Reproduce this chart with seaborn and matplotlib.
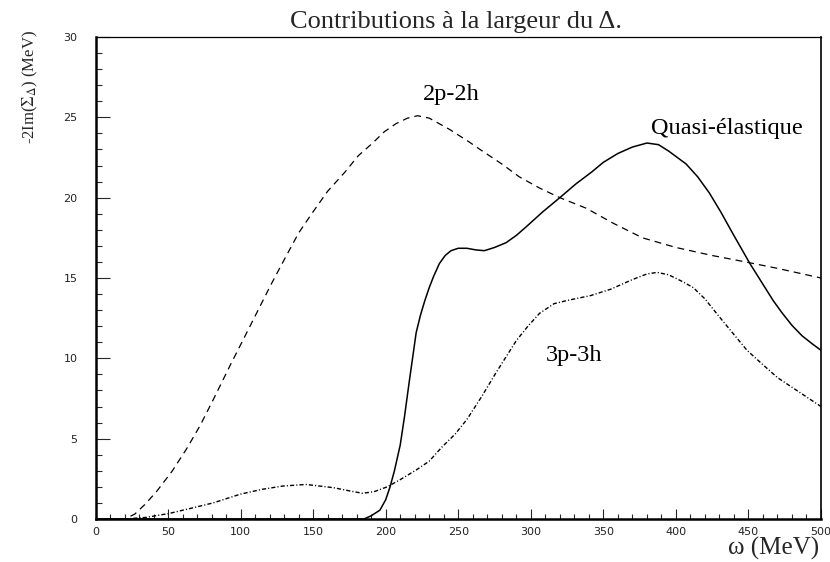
import matplotlib
matplotlib.use("Agg")
import matplotlib.pyplot as plt
from matplotlib.ticker import MultipleLocator
import seaborn as sns

# ---- data ----
omega_2p2h = [0, 20, 27, 34, 42, 53, 63, 72, 81, 93, 102, 121, 131, 140, 149, 160, 172,
              181, 191, 199, 207, 215, 222, 230, 237, 244, 250, 257, 265, 280, 292, 306,
              320, 338, 357, 377, 400, 425, 448, 470, 500]
width_2p2h = [0, 0, 0.3, 0.9, 1.7, 3.0, 4.4, 5.8, 7.4, 9.6, 11.2, 14.6, 16.3, 17.8, 19.0,
              20.4, 21.6, 22.6, 23.4, 24.1, 24.6, 24.95, 25.1, 24.95, 24.6, 24.25, 23.9,
              23.5, 23.0, 22.1, 21.3, 20.6, 20.0, 19.35, 18.4, 17.5, 16.9, 16.4, 16.0,
              15.6, 15.0]

omega_qe = [0, 100, 185, 190, 196, 200, 203, 206, 210, 213, 216, 218.5, 221, 224, 227,
            230, 233, 237, 241, 245, 250, 256, 262, 268, 275, 283, 290, 297, 308, 320,
            331, 342, 350, 360, 370, 380, 388, 395, 401, 407, 415, 423, 431, 439, 445,
            451, 459, 467, 473, 480, 487, 494, 500]
width_qe = [0, 0, 0, 0.2, 0.55, 1.2, 2.0, 3.0, 4.6, 6.4, 8.4, 10.0, 11.6, 12.7, 13.6,
            14.4, 15.1, 15.9, 16.4, 16.7, 16.85, 16.85, 16.75, 16.7, 16.9, 17.2, 17.65,
            18.2, 19.1, 20.0, 20.85, 21.6, 22.2, 22.75, 23.15, 23.4, 23.3, 22.9, 22.5,
            22.1, 21.3, 20.3, 19.1, 17.8, 16.85, 15.9, 14.75, 13.6, 12.85, 12.05, 11.4,
            10.9, 10.5]

omega_3p3h = [0, 20, 35, 51, 65, 81, 100, 115, 129, 145, 164, 175, 184, 192, 201, 210,
              221, 230, 239, 248, 256, 266, 276, 290, 298, 306, 316, 325, 341, 355, 370,
              380, 387, 395, 404, 412, 420, 428, 438, 449, 460, 470, 485, 500]
width_3p3h = [0, 0, 0.1, 0.35, 0.65, 1.0, 1.55, 1.85, 2.05, 2.15, 1.95, 1.75, 1.6, 1.7,
              2.0, 2.45, 3.05, 3.6, 4.5, 5.3, 6.2, 7.6, 9.1, 11.1, 12.0, 12.8, 13.4, 13.6,
              13.9, 14.3, 14.9, 15.25, 15.35, 15.2, 14.8, 14.4, 13.7, 12.8, 11.7, 10.5,
              9.6, 8.8, 7.9, 7.0]

labels = ["2p-2h", "Quasi-élastique", "3p-3h"]
label_pos = [(245, 26.4), (435, 24.3), (330, 10.2)]
title = "Contributions à la largeur du Δ."
ylabel = r"-2Im($\Sigma_{\Delta}$) (MeV)"
xlabel = "ω (MeV)"

# ---- style ----
sns.set_style("white")
plt.rcParams["font.family"] = ["Liberation Serif", "DejaVu Serif"]
plt.rcParams["mathtext.fontset"] = "stix"

fig = plt.figure(figsize=(8.3, 5.62), dpi=100)
ax = fig.add_axes([95.5 / 830, 1 - 519 / 562, (821 - 95.5) / 830, (519 - 37) / 562])

sns.lineplot(x=omega_2p2h, y=width_2p2h, ax=ax, color="black", linewidth=0.9,
             linestyle=(0, (5.5, 4)))
sns.lineplot(x=omega_qe, y=width_qe, ax=ax, color="black", linewidth=1.1,
             linestyle="-")
sns.lineplot(x=omega_3p3h, y=width_3p3h, ax=ax, color="black", linewidth=1.0,
             linestyle=(0, (3, 1.5, 0.8, 1.5)))

ax.set_xlim(0, 500)
ax.set_ylim(0, 30)
ax.xaxis.set_major_locator(MultipleLocator(50))
ax.xaxis.set_minor_locator(MultipleLocator(10))
ax.yaxis.set_major_locator(MultipleLocator(5))
ax.yaxis.set_minor_locator(MultipleLocator(1))

ax.tick_params(axis="x", which="major", direction="in", length=7, width=0.8,
               pad=6, labelsize=8, top=False, bottom=True)
ax.tick_params(axis="x", which="minor", direction="in", length=3.5, width=0.8,
               top=False, bottom=True)
ax.tick_params(axis="y", which="major", direction="in", length=10, width=0.8,
               pad=13, labelsize=8, right=False, left=True)
ax.tick_params(axis="y", which="minor", direction="in", length=4.5, width=0.8,
               right=False, left=True)
for lab in ax.get_xticklabels() + ax.get_yticklabels():
    lab.set_family("DejaVu Sans")
    lab.set_color("#222222")

ax.spines["left"].set_linewidth(1.8)
ax.spines["bottom"].set_linewidth(1.8)
ax.spines["right"].set_linewidth(1.2)
ax.spines["top"].set_linewidth(0.9)
for s in ax.spines.values():
    s.set_color("black")
ax.set_xlabel("")
ax.set_ylabel("")

for txt, (px, py) in zip(labels, label_pos):
    ax.text(px, py, txt, ha="center", va="center", fontsize=17.5, color="black",
            clip_on=False)

fig.text(456 / 830, 1 - 22 / 562, title, ha="center", va="center", fontsize=19)
fig.text(30 / 830, 1 - 87 / 562, ylabel, ha="center", va="center", rotation=90,
         fontsize=12)
fig.text(819 / 830, 1 - 548 / 562, xlabel, ha="right", va="center", fontsize=18)

fig.savefig("out.png", dpi=100)
